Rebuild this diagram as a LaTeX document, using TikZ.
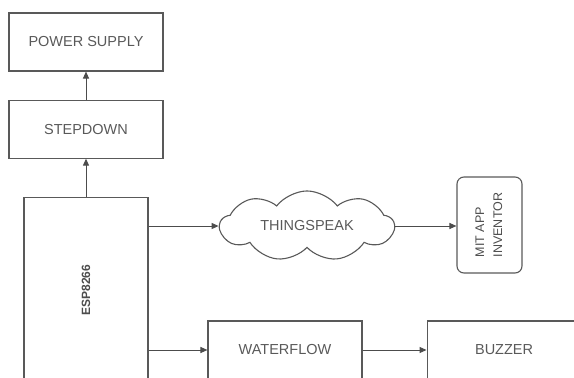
\documentclass[tikz,border=0pt]{standalone}
\usepackage{fontspec}
\setmainfont{Liberation Sans}
\usetikzlibrary{arrows.meta, positioning, shapes.symbols}

\begin{document}
\begin{tikzpicture}[
  x=1pt, y=-1pt,
  node distance=28pt,
  blk/.style={
    rectangle, draw=black!65, line width=1.1pt,
    minimum width=154pt, minimum height=58pt,
    text centered, text=black!65, font=\fontsize{14.5}{16}\selectfont
  },
  esp/.style={
    rectangle, draw=black!65, line width=1.1pt,
    minimum width=124pt, minimum height=186pt,
    text=black!70, font=\fontsize{12}{14}\bfseries
  },
  app/.style={
    rectangle, draw=black!65, line width=1.1pt, rounded corners=7pt,
    minimum width=65pt, minimum height=96pt,
    text=black!70, font=\fontsize{12.5}{18}\selectfont
  },
  cld/.style={
    cloud, draw=black!65, line width=1.1pt, cloud puffs=9, cloud puff arc=105,
    aspect=2.6, minimum width=174pt, minimum height=68pt, inner sep=0pt,
    text=black!65, font=\fontsize{14.5}{16}\selectfont
  },
  arr/.style={-{Triangle[length=7pt, width=6pt]}, line width=1pt, draw=black!70}
]
\useasboundingbox (0,0) rectangle (574,378);
\clip (0,0) rectangle (574,378);

\node[blk] (power) at (86,42) {POWER SUPPLY};
\node[blk, below=of power] (step) {STEPDOWN};
\node[esp, below=38pt of step] (mcu) {\rotatebox{90}{ESP8266}};

\node[cld] (cloud) at (307,226) {THINGSPEAK};
\node[app] (mit) at (489.5,225) {\rotatebox{90}{\begin{tabular}{@{}l@{}}MIT APP\\INVENTOR\end{tabular}}};

\node[blk] (flow) at (285,350) {WATERFLOW};
\node[blk, right=64pt of flow] (buzz) {BUZZER};

\draw[arr] (step.north) -- (power.south);
\draw[arr] (mcu.north) -- (step.south);
\draw[arr] (mcu.east |- cloud.west) -- (cloud.west);
\draw[arr] (cloud.east) -- (cloud.east -| mit.west);
\draw[arr] (mcu.east |- flow.west) -- (flow.west);
\draw[arr] (flow.east) -- (buzz.west);

\end{tikzpicture}
\end{document}
